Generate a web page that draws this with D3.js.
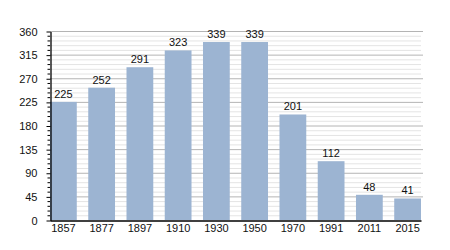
<!DOCTYPE html>
<html>
<head>
<meta charset="utf-8">
<script src="https://cdn.jsdelivr.net/npm/d3@7"></script>
<style>
  body { margin: 0; background: #fff; }
  text { font-family: "Liberation Sans", Arial, sans-serif; }
</style>
</head>
<body>
<svg id="viz" width="450" height="250"></svg>
<script>
// population by census year
var years = ["1857", "1877", "1897", "1910", "1930", "1950", "1970", "1991", "2011", "2015"];
var population = [225, 252, 291, 323, 339, 339, 201, 112, 48, 41];
var yTicks = [0, 45, 90, 135, 180, 225, 270, 315, 360];

var svg = d3.select("#viz"),
    margin = {top: 31, right: 29, bottom: 30, left: 50},
    width = 450 - margin.left - margin.right,
    height = 250 - margin.top - margin.bottom,
    g = svg.append("g").attr("transform", "translate(" + margin.left + "," + margin.top + ")");

var x = d3.scaleBand().domain(years).range([0, width]).paddingInner(0.3).paddingOuter(0);
var y = d3.scaleLinear().domain([0, 360]).range([height, 0]);

// minor grid every 9, major every 45
var minor = d3.range(0, 361, 9).filter(function(v) { return v % 45 != 0; });
g.selectAll(".minor").data(minor).enter().append("line")
    .attr("x1", 0).attr("x2", width)
    .attr("y1", d => y(d) + 0.5).attr("y2", d => y(d) + 0.5)
    .attr("stroke", "#e4e4e4").attr("stroke-width", 1);
g.selectAll(".major").data(yTicks.slice(1)).enter().append("line")
    .attr("x1", 0).attr("x2", width + 2)
    .attr("y1", d => y(d) + 0.5).attr("y2", d => y(d) + 0.5)
    .attr("stroke", "#b4b4b4").attr("stroke-width", 1);

// bars
g.selectAll("rect").data(population).enter().append("rect")
    .attr("x", (d, i) => x(years[i]))
    .attr("y", d => y(d))
    .attr("width", x.bandwidth())
    .attr("height", d => height - y(d))
    .attr("fill", "#9cb4d2");

g.selectAll(".val").data(population).enter().append("text")
    .attr("x", (d, i) => x(years[i]) + x.bandwidth() / 2)
    .attr("y", d => y(d) - 4)
    .attr("text-anchor", "middle")
    .attr("font-size", 11)
    .attr("fill", "#111")
    .text(d => d);

// y axis with minor ticks
g.selectAll(".mt").data(minor).enter().append("line")
    .attr("x1", -2.5).attr("x2", 0)
    .attr("y1", d => y(d) + 0.5).attr("y2", d => y(d) + 0.5)
    .attr("stroke", "#000");
var yAxis = g.append("g").attr("transform", "translate(0.5,0.5)")
    .call(d3.axisLeft(y).tickValues(yTicks).tickSize(4).tickSizeOuter(0).tickPadding(9));
yAxis.select(".domain").attr("stroke", "#000").attr("stroke-width", 1.3);
yAxis.selectAll("text").attr("font-size", 11).attr("fill", "#111").attr("font-family", "Liberation Sans, Arial, sans-serif");

// x axis
var xAxis = g.append("g").attr("transform", "translate(0," + (height + 0.5) + ")")
    .call(d3.axisBottom(x).tickSize(0).tickSizeOuter(0).tickPadding(4));
xAxis.select(".domain").attr("stroke", "#000").attr("stroke-width", 1.3);
xAxis.selectAll("text").attr("font-size", 11).attr("fill", "#111").attr("font-family", "Liberation Sans, Arial, sans-serif");
</script>
</body>
</html>
